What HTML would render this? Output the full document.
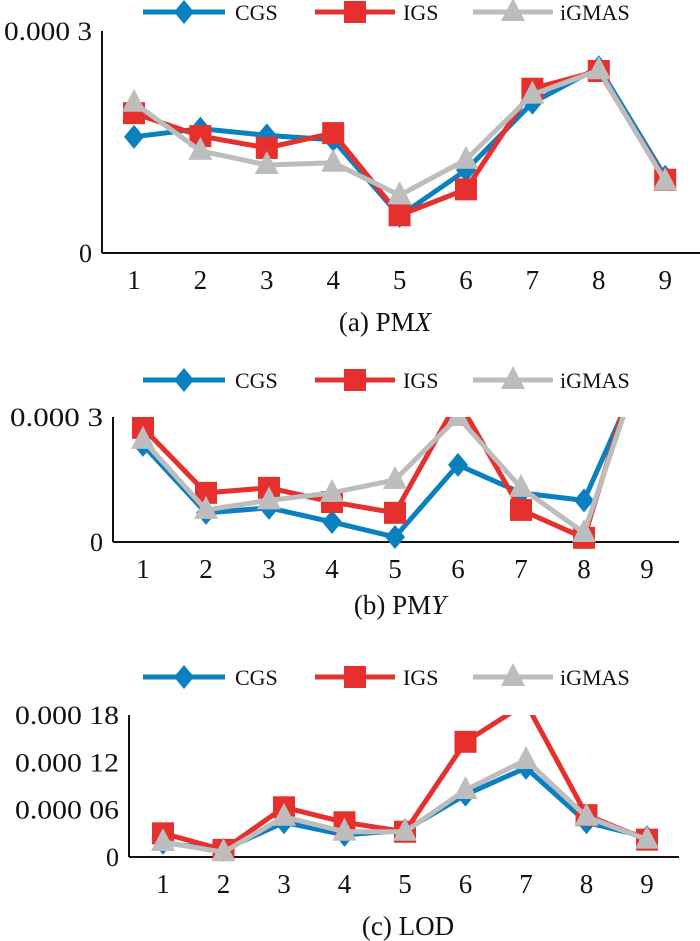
<!DOCTYPE html>
<html><head><meta charset="utf-8">
<style>
body{margin:0;background:#fff;}
svg{display:block;}
svg text{font-family:"Liberation Serif","Times New Roman",serif;}
</style></head>
<body>
<svg id="fig" width="700" height="941" viewBox="0 0 700 941" xmlns="http://www.w3.org/2000/svg" font-family="Liberation Serif, serif"></svg>
<script>
const categories = [1,2,3,4,5,6,7,8,9];
const seriesNames = ["CGS","IGS","iGMAS"];
// PMX (×1e-4)
const pmxCGS   = [1.57,1.68,1.59,1.53,0.50,1.12,2.03,2.51,1.03];
const pmxIGS   = [1.89,1.58,1.42,1.62,0.51,0.86,2.22,2.46,0.99];
const pmxIGMAS = [2.03,1.38,1.19,1.22,0.78,1.26,2.14,2.47,0.97];
// PMY (×1e-4)
const pmyCGS   = [2.33,0.70,0.82,0.48,0.12,1.85,1.18,1.00,4.4];
const pmyIGS   = [2.74,1.18,1.30,0.96,0.70,3.4,0.77,0.10,5.0];
const pmyIGMAS = [2.45,0.77,1.00,1.18,1.49,3.0,1.30,0.22,4.7];
// LOD (×1e-5)
const lodCGS   = [1.8,0.9,4.4,2.8,3.4,7.9,11.3,4.4,2.5];
const lodIGS   = [3.0,0.9,6.3,4.4,3.2,14.6,19.5,5.3,2.2];
const lodIGMAS = [1.9,0.6,5.1,3.2,3.2,8.5,12.3,5.1,2.2];
const pmxTicks = ["0","0.000 3"];
const pmyTicks = ["0","0.000 3"];
const lodTicks = ["0","0.000 06","0.000 12","0.000 18"];

const NS="http://www.w3.org/2000/svg";
const FF="Liberation Serif, Times New Roman, serif";
const svg=document.getElementById('fig');
const colors=["#0a80c0","#e5302e","#bdbdbd"];
function mk(tag,attrs,parent){const e=document.createElementNS(NS,tag);for(const k in attrs)e.setAttribute(k,attrs[k]);if(tag==='text')e.setAttribute('font-family',FF);(parent||svg).appendChild(e);return e;}
function marker(g,kind,x,y,color){
  let m;
  if(kind===0){m=mk('polygon',{points:`${x},${y-12} ${x+10},${y} ${x},${y+12} ${x-10},${y}`,fill:color},g);}
  else if(kind===1){m=mk('rect',{x:x-11,y:y-11,width:22,height:22,fill:color},g);}
  else {m=mk('polygon',{points:`${x},${y-14} ${x+12},${y+9} ${x-12},${y+9}`,fill:color},g);}
  return m;
}
function legend(y,idx){
  const g=mk('g',{});
  
  
  const xs=[[143,225,184,235],[315,395,355,403],[473,553,513,560]];
  seriesNames.forEach((n,i)=>{
    const e=mk('g',{},g);
    
    
    mk('line',{x1:xs[i][0],x2:xs[i][1],y1:y,y2:y,stroke:colors[i],'stroke-width':5},e);
    marker(e,i,xs[i][2],y,colors[i]);
    const t=mk('text',{x:xs[i][3],y:y+8,'font-size':22,fill:'#111'},e);
    t.textContent=n;
  });
}
function chart(cfg){
  const g=mk('g',{});
  
  
  const {ax,top,zero,right,x1,dx,ymax,ticks,tickVals,series,caption,capX,capY,id,labW}=cfg;
  const xS=i=>x1+i*dx;
  const yS=v=>zero-(v/ymax)*(zero-top);
  const cp=mk('clipPath',{id:'clip'+id},g);
  mk('rect',{x:ax,y:top,width:right-ax+20,height:zero-top+20},cp);
  const ya=mk('line',{x1:ax,x2:ax,y1:top,y2:zero,stroke:'#111','stroke-width':2},g);
  
  
  const xa=mk('line',{x1:ax,x2:right,y1:zero,y2:zero,stroke:'#111','stroke-width':2},g);
  
  
  ticks.forEach((t,i)=>{
    const y=yS(tickVals[i]);
    const tx=mk('text',{x:ax-10,y:y+9,'font-size':26,'text-anchor':'end',fill:'#111'},g);
    if(t.length>2){tx.setAttribute('textLength',labW[t.length>7?1:0]);tx.setAttribute('lengthAdjust','spacingAndGlyphs');}
    
    
    tx.textContent=t;
  });
  categories.forEach((c,i)=>{
    const tx=mk('text',{x:xS(i),y:zero+36,'font-size':27,'text-anchor':'middle',fill:'#111'},g);
    
    
    tx.textContent=c;
  });
  const pg=mk('g',{'clip-path':`url(#clip${id})`},g);
  series.forEach((vals,si)=>{
    const sg=mk('g',{},pg);
    
    
    const pts=vals.map((v,i)=>xS(i)+','+yS(v)).join(' ');
    mk('polyline',{points:pts,fill:'none',stroke:colors[si],'stroke-width':5,'stroke-linejoin':'round'},sg);
    vals.forEach((v,i)=>{
      const m=marker(sg,si,xS(i),yS(v),colors[si]);
      
      
    });
  });
  const cap=mk('text',{x:capX,y:capY,'font-size':27,'text-anchor':'middle',fill:'#111'},g);
  
  
  cap.innerHTML=caption;
}
legend(12,'a');
chart({name:'chart-pmx',id:'a',ax:102,top:31,zero:253,right:700,x1:134,dx:66.4,ymax:3,ticks:pmxTicks,tickVals:[0,3],
  series:[pmxCGS,pmxIGS,pmxIGMAS],caption:'(a) PM<tspan font-style="italic">X</tspan>',capX:385,capY:331,labW:[88,100]});
legend(380,'b');
chart({name:'chart-pmy',id:'b',ax:113,top:417,zero:542,right:679,x1:143,dx:63,ymax:3,ticks:pmyTicks,tickVals:[0,3],
  series:[pmyCGS,pmyIGS,pmyIGMAS],caption:'(b) PM<tspan font-style="italic">Y</tspan>',capX:400,capY:614,labW:[93,100]});
legend(677,'c');
chart({name:'chart-lod',id:'c',ax:129,top:715,zero:857,right:679,x1:163,dx:60.5,ymax:18,ticks:lodTicks,tickVals:[0,6,12,18],
  series:[lodCGS,lodIGS,lodIGMAS],caption:'(c) LOD',capX:408,capY:935,labW:[104,104]});
</script>
</body></html>
